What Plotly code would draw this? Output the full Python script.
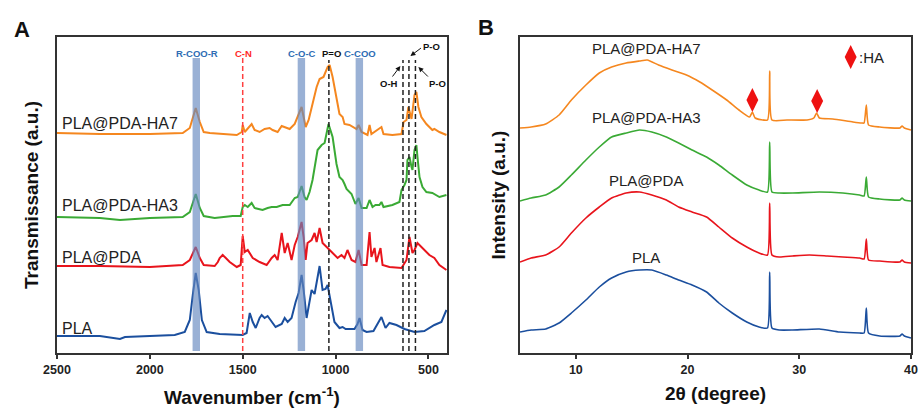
import plotly.graph_objects as go

# ---------------- Panel A : FTIR (wavenumber cm-1, transmittance a.u., stacked) -------------
ftir_pla = [(2500, 17), (2269, 17), (2161, 14), (2134, 16), (2000, 17), (1866, 18), (1812, 21),
            (1785, 33), (1769, 58), (1753, 80), (1737, 63), (1720, 33), (1694, 21), (1624, 19),
            (1500, 18), (1479, 20), (1462, 40), (1446, 31), (1430, 25), (1409, 35), (1398, 38),
            (1382, 35), (1366, 37), (1344, 31), (1323, 26), (1290, 29), (1274, 35), (1258, 31),
            (1237, 35), (1215, 51), (1199, 60), (1183, 78), (1172, 63), (1156, 35), (1145, 48),
            (1129, 63), (1113, 59), (1097, 78), (1086, 87), (1070, 63), (1054, 64), (1043, 68),
            (1027, 53), (1006, 31), (979, 25), (962, 26), (946, 24), (898, 24), (882, 29),
            (871, 35), (855, 23), (833, 21), (796, 22), (769, 31), (753, 36), (731, 25),
            (710, 30), (672, 28), (629, 24), (575, 21), (522, 22), (468, 28), (430, 31), (403, 43)]

ftir_pda = [(2500, 87), (2269, 87), (2000, 86), (1823, 88), (1785, 93), (1753, 106), (1731, 95),
            (1710, 88), (1651, 87), (1634, 91), (1624, 95), (1608, 98), (1591, 95), (1570, 91),
            (1532, 86), (1511, 88), (1500, 117), (1489, 101), (1473, 103), (1446, 95), (1409, 91),
            (1371, 88), (1344, 95), (1328, 98), (1312, 93), (1290, 120), (1274, 100), (1258, 110),
            (1237, 93), (1220, 108), (1204, 116), (1183, 131), (1172, 116), (1161, 93), (1151, 110),
            (1129, 113), (1113, 120), (1102, 111), (1086, 125), (1070, 110), (1048, 106),
            (1032, 103), (1016, 100), (989, 95), (968, 98), (952, 95), (936, 103), (914, 93),
            (893, 91), (876, 103), (860, 88), (833, 88), (817, 121), (807, 96), (790, 105),
            (780, 91), (758, 105), (747, 88), (710, 86), (645, 85), (618, 93), (602, 116),
            (586, 100), (575, 103), (559, 110), (532, 105), (495, 98), (468, 95), (441, 88), (403, 83)]

ftir_ha3 = [(2500, 136), (2269, 135), (2161, 133), (2000, 135), (1823, 136), (1785, 141),
            (1753, 159), (1731, 145), (1710, 137), (1651, 135), (1554, 137), (1511, 137),
            (1500, 146), (1489, 148), (1473, 146), (1452, 150), (1436, 145), (1393, 143),
            (1366, 145), (1344, 146), (1317, 146), (1285, 148), (1247, 148), (1220, 155),
            (1204, 156), (1183, 167), (1167, 156), (1156, 153), (1140, 161), (1124, 173),
            (1097, 203), (1075, 208), (1059, 210), (1038, 229), (1016, 216), (995, 189),
            (979, 176), (962, 173), (952, 169), (941, 164), (914, 159), (893, 149), (876, 155),
            (860, 145), (833, 145), (817, 153), (801, 146), (785, 148), (764, 148), (753, 151),
            (742, 146), (694, 148), (656, 151), (645, 163), (629, 168), (618, 173), (613, 193),
            (602, 196), (591, 186), (586, 183), (575, 203), (565, 208), (559, 196), (548, 176),
            (532, 166), (511, 161), (479, 160), (441, 156), (403, 158)]

ftir_ha7 = [(2500, 220), (2269, 219), (2000, 219), (1823, 220), (1785, 225), (1753, 245),
            (1731, 231), (1710, 221), (1677, 220), (1624, 219), (1532, 218), (1505, 221),
            (1500, 228), (1489, 221), (1473, 224), (1452, 229), (1436, 223), (1409, 221),
            (1382, 224), (1355, 225), (1339, 223), (1312, 221), (1290, 227), (1274, 226),
            (1247, 224), (1220, 229), (1204, 236), (1183, 246), (1172, 236), (1161, 226),
            (1145, 233), (1124, 249), (1102, 266), (1086, 274), (1065, 276), (1043, 286),
            (1032, 288), (1016, 276), (995, 256), (979, 239), (962, 236), (952, 229), (925, 228),
            (887, 224), (876, 228), (860, 221), (828, 218), (817, 228), (807, 219), (790, 221),
            (753, 226), (742, 219), (694, 218), (645, 219), (634, 231), (618, 233), (608, 246),
            (591, 234), (575, 258), (565, 261), (554, 246), (538, 236), (511, 229), (479, 223),
            (468, 224), (441, 221), (403, 218)]

ftir_names = ["PLA", "PLA@PDA", "PLA@PDA-HA3", "PLA@PDA-HA7"]
ftir_label_y = [25, 96, 148, 230]

band_centers = [1750, 1184, 872]          # R-COO-R, C-O-C, C-COO
band_labels = ["R-COO-R", "C-O-C", "C-COO"]
cn_line = 1500                             # C-N
po_line = 1036                             # P=O
ha_lines = [637, 605, 570]                 # O-H, P-O, P-O

# ---------------- Panel B : XRD (2theta degree, intensity a.u., stacked) --------------------
xrd_pla = [(5.0, 21), (6.0, 23), (7.3, 24), (8.5, 30), (9.6, 40), (10.9, 53), (12.1, 66),
           (13.2, 75), (14.5, 81), (15.7, 83), (16.8, 83), (18.1, 78), (19.2, 73), (20.4, 68),
           (21.7, 61), (22.8, 50), (24.0, 40), (25.3, 31), (26.4, 26), (27.15, 25), (27.35, 81),
           (27.55, 25), (28.2, 23), (29.4, 23), (31.8, 24), (33.6, 21), (35.4, 20), (35.8, 20),
           (36.0, 45), (36.2, 20), (37.2, 17), (39.0, 17), (39.2, 19), (39.4, 17), (40.0, 15)]

xrd_pda = [(5.0, 91), (6.0, 95), (7.3, 98), (8.5, 106), (9.6, 120), (10.9, 135), (12.1, 146),
           (13.2, 155), (14.5, 160), (15.7, 161), (16.8, 158), (18.1, 153), (19.2, 146),
           (20.4, 141), (21.7, 136), (22.8, 126), (24.0, 115), (25.3, 106), (26.4, 100),
           (27.15, 98), (27.35, 150), (27.55, 98), (28.2, 96), (29.4, 97), (30.9, 98), (32.5, 97),
           (33.9, 96), (35.4, 95), (35.8, 94), (36.0, 114), (36.2, 93), (37.2, 92), (39.0, 91),
           (39.2, 93), (39.4, 91), (40.0, 90)]

xrd_ha3 = [(5.0, 152), (6.0, 155), (7.3, 158), (8.5, 166), (9.6, 178), (10.9, 193), (12.1, 206),
           (13.2, 216), (14.5, 220), (15.7, 223), (16.8, 221), (18.1, 216), (19.2, 210),
           (20.4, 203), (21.7, 196), (22.8, 188), (24.0, 178), (25.3, 168), (26.4, 163),
           (27.15, 161), (27.35, 211), (27.55, 161), (28.2, 160), (29.4, 160), (31.8, 161),
           (33.9, 160), (35.4, 158), (35.8, 157), (36.0, 176), (36.2, 156), (37.2, 154),
           (39.0, 153), (39.2, 155), (39.4, 153), (40.0, 152)]

xrd_ha7 = [(5.0, 225), (6.0, 226), (7.3, 229), (8.5, 238), (9.6, 253), (10.9, 268), (12.1, 280),
           (13.2, 286), (14.5, 290), (15.7, 292), (16.4, 293), (17.4, 288), (18.6, 283),
           (19.9, 278), (21.1, 271), (22.2, 263), (23.5, 253), (24.6, 243), (25.55, 236),
           (25.8, 241), (26.05, 235), (27.15, 233), (27.35, 282), (27.55, 233), (28.9, 233),
           (30.7, 233), (31.3, 235), (31.55, 240), (31.8, 235), (33.0, 234), (34.8, 231),
           (35.6, 230), (35.8, 230), (36.0, 248), (36.2, 228), (37.2, 226), (39.0, 225),
           (39.2, 227), (39.4, 225), (40.0, 223)]

xrd_names = ["PLA", "PLA@PDA", "PLA@PDA-HA3", "PLA@PDA-HA7"]
xrd_label_y = [96, 173, 236, 305]
ha_peaks = [25.8, 31.6]
ha_marker_y = [253, 252]

colors = ["#1b4f9e", "#e8141c", "#3aaa35", "#f5871f"]
FONT = "Liberation Sans, Arial, Helvetica, sans-serif"
BAND = "rgba(100,135,190,0.65)"
LBLUE = "#2e6db4"

# canvas geometry (pixels)
W, H = 919, 409
L, R, T, B = 57, 911, 37, 353
PW, PH = R - L, B - T


def px(xp):
    return (xp - L) / PW


def py(yp):
    return (B - yp) / PH


fig = go.Figure()


def unzip(pts):
    return [p[0] for p in pts], [p[1] for p in pts]


for pts, c in zip([ftir_pla, ftir_pda, ftir_ha3, ftir_ha7], colors):
    xs, ys = unzip(pts)
    fig.add_trace(go.Scatter(x=xs, y=ys, mode="lines", line=dict(color=c, width=2),
                             xaxis="x", yaxis="y", showlegend=False, hoverinfo="skip"))

for pts, c in zip([xrd_pla, xrd_pda, xrd_ha3, xrd_ha7], colors):
    xs, ys = unzip(pts)
    fig.add_trace(go.Scatter(x=xs, y=ys, mode="lines",
                             line=dict(color=c, width=1.6, shape="spline", smoothing=0.5),
                             xaxis="x2", yaxis="y2", showlegend=False, hoverinfo="skip"))

fig.add_trace(go.Scatter(x=ha_peaks, y=ha_marker_y, mode="markers",
                         marker=dict(symbol="diamond-tall", size=17, color="#ee1111"),
                         xaxis="x2", yaxis="y2", showlegend=False, hoverinfo="skip"))
fig.add_trace(go.Scatter(x=[34.6], y=[296], mode="markers",
                         marker=dict(symbol="diamond-tall", size=17, color="#ee1111"),
                         xaxis="x2", yaxis="y2", showlegend=False, hoverinfo="skip"))

shapes = []
for bc in band_centers:
    shapes.append(dict(type="rect", xref="x", yref="y", x0=bc + 20, x1=bc - 20, y0=2, y1=295,
                       fillcolor=BAND, line=dict(width=0), layer="above"))
shapes.append(dict(type="line", xref="x", yref="y", x0=cn_line, x1=cn_line, y0=2, y1=295,
                   line=dict(color="#ff4040", width=1.5, dash="5px,3px"), layer="above"))
for xv in [po_line] + ha_lines:
    shapes.append(dict(type="line", xref="x", yref="y", x0=xv, x1=xv, y0=2, y1=293,
                       line=dict(color="#222222", width=1.5, dash="5px,3px"), layer="above"))

ann = []


def txt(x, y, t, size, color="#222222", bold=False, xanchor="center", xref="x", yref="y"):
    ann.append(dict(x=x, y=y, xref=xref, yref=yref, text=t, showarrow=False, xanchor=xanchor,
                    yanchor="middle", font=dict(family=FONT, size=size, color=color,
                                                weight="bold" if bold else "normal")))


for n, yv in zip(ftir_names, ftir_label_y):
    txt(2484, yv, n, 16, xanchor="left")
for n, yv in zip(xrd_names, xrd_label_y):
    txt(16.3, yv, n, 15, xref="x2", yref="y2")
txt(35.2, 296, ":HA", 15, xanchor="left", xref="x2", yref="y2")

for bc, bl in zip(band_centers, band_labels):
    txt(bc - 5, 300, bl, 9.5, color=LBLUE, bold=True)
txt(cn_line - 5, 300, "C-N", 9.5, color="#ff2a2a", bold=True)
txt(po_line - 12, 300, "P=O", 9.5, color="#111111", bold=True)
txt(484, 307, "P-O", 9.5, color="#111111", bold=True)
txt(710, 270, "O-H", 9.5, color="#111111", bold=True)
txt(452, 270, "P-O", 9.5, color="#111111", bold=True)

# arrows towards the dashed O-H / P-O lines (head x,y in data units; tail offset ax, ay in px)
for head_x, head_y, ax, ay in [(597, 297, 12, -9), (651, 287, -9, 12), (554, 286, 11, 11)]:
    ann.append(dict(x=head_x, y=head_y, xref="x", yref="y", text="", showarrow=True,
                    ax=ax, ay=ay, arrowhead=2, arrowsize=1, arrowwidth=1,
                    arrowcolor="#111111", standoff=0))

txt(px(22), py(29), "A", 22, color="#111111", bold=True, xref="paper", yref="paper")
txt(px(486), py(27), "B", 22, color="#111111", bold=True, xref="paper", yref="paper")

axis_common = dict(showline=True, mirror=True, linecolor="#333333", linewidth=1.6,
                   showgrid=False, zeroline=False, automargin=False)
tickfont = dict(family=FONT, size=12.5, color="#222222", weight="bold")
titlefont = dict(family=FONT, size=19, color="#111111", weight="bold")

fig.update_layout(
    width=W, height=H, margin=dict(l=L, r=W - R, t=T, b=H - B, autoexpand=False),
    paper_bgcolor="white", plot_bgcolor="white",
    xaxis=dict(domain=[0, px(447)], range=[2500, 400],
               tickvals=[2500, 2000, 1500, 1000, 500], ticks="outside", ticklen=4,
               tickwidth=1.5, tickcolor="#333333", tickfont=tickfont,
               title=dict(text="Wavenumber (cm<sup>-1</sup>)", font=titlefont, standoff=15),
               anchor="y", **axis_common),
    yaxis=dict(domain=[0, 1], range=[0, 316], showticklabels=False, ticks="",
               title=dict(text="Transmissance (a.u.)", font=titlefont, standoff=12),
               anchor="x", **axis_common),
    xaxis2=dict(domain=[px(520), 1], range=[5, 40], tickvals=[10, 20, 30, 40],
                ticks="outside", ticklen=4, tickwidth=1.5, tickcolor="#333333",
                tickfont=tickfont,
                title=dict(text="2θ (degree)", font=titlefont, standoff=11),
                anchor="y2", **axis_common),
    yaxis2=dict(domain=[0, 1], range=[0, 316], showticklabels=False, ticks="",
                title=dict(text="Intensity (a.u.)", font=titlefont, standoff=8),
                anchor="x2", **axis_common),
    shapes=shapes, annotations=ann,
)

fig.write_html("out.html", config={"displayModeBar": False},
               post_script="document.body.style.margin='0px';document.body.style.overflow='hidden';")
